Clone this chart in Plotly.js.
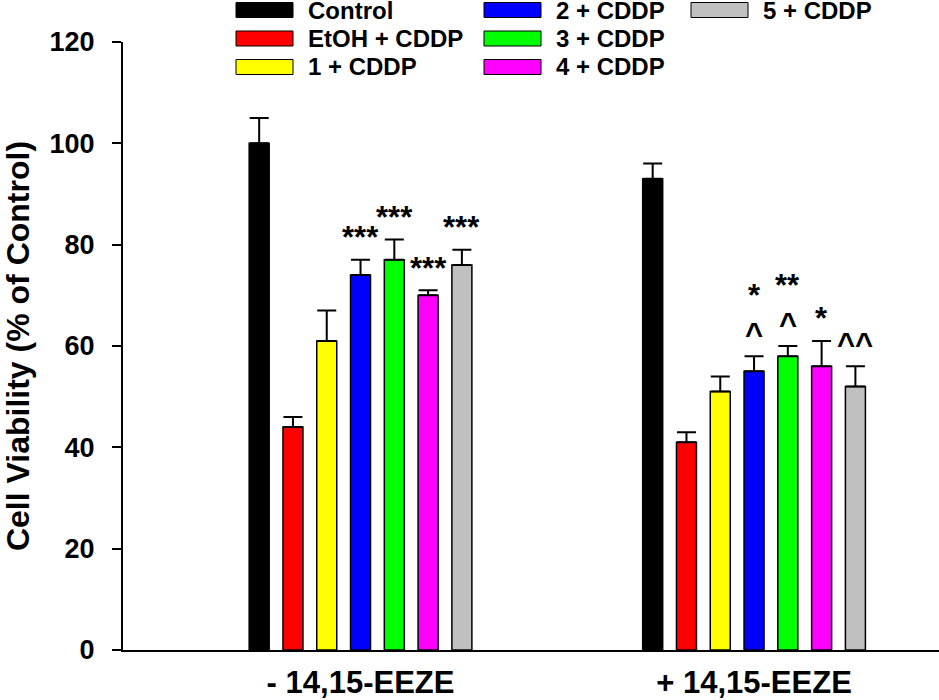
<!DOCTYPE html>
<html><head><meta charset="utf-8">
<script src="https://cdn.plot.ly/plotly-3.0.1.min.js"></script>
<style>html,body{margin:0;padding:0;background:#fff}#chart{width:939px;height:700px}</style>
</head><body><div id="chart"></div>
<script>
// ---- data ----
const groups = ["- 14,15-EEZE", "+ 14,15-EEZE"];
const seriesNames = ["Control", "EtOH + CDDP", "1 + CDDP", "2 + CDDP", "3 + CDDP", "4 + CDDP", "5 + CDDP"];
const seriesColors = ["#000000", "#FF0000", "#FFFF00", "#0000FF", "#00FF00", "#FF00FF", "#C0C0C0"];
const valuesMinus = [100, 44, 61, 74, 77, 70, 76];
const errorsMinus = [5, 2, 6, 3, 4, 1, 3];
const valuesPlus = [93, 41, 51, 55, 58, 56, 52];
const errorsPlus = [3, 2, 3, 3, 2, 5, 4];
const sigMinusLow = ["", "", "", "***", "***", "***", "***"];
const sigMinusHigh = ["", "", "", "", "", "", ""];
const sigPlusLow = ["", "", "", "^", "^", "*", "^^"];
const sigPlusHigh = ["", "", "", "*", "**", "", ""];
const yTicks = [0, 20, 40, 60, 80, 100, 120];

// ---- layout constants ----
const FONT = "Liberation Sans, Arial, sans-serif";
const BARGAP = 0.399, BARGROUPGAP = 0.408;
const W = 939, H = 700, ML = 123, MR = 0, MT = 42, MB = 50;
const PW = W - ML - MR, PH = H - MT - MB;
const px2x = p => (p - ML) / PW;
const px2y = p => (H - MB - p) / PH;

const traces = seriesNames.map((name, i) => ({
  type: "bar",
  name: name,
  x: groups,
  y: [valuesMinus[i], valuesPlus[i]],
  marker: { color: seriesColors[i], line: { color: "#000", width: 1.5 } },
  error_y: {
    type: "data", symmetric: false,
    array: [errorsMinus[i], errorsPlus[i]],
    arrayminus: [0, 0],
    color: "#000", thickness: 2, width: 9.5
  },
  showlegend: false,
  hoverinfo: "skip"
}));

const annotations = [];
const slot = (1 - BARGAP) / seriesNames.length;
const addSig = (gi, vals, errs, low, high) => {
  for (let i = 0; i < seriesNames.length; i++) {
    const xpos = gi + (i - (seriesNames.length - 1) / 2) * slot;
    const top = vals[i] + errs[i];
    if (low[i]) annotations.push({ x: xpos, y: top, xref: "x", yref: "y", text: low[i], showarrow: false,
      yanchor: "middle", yshift: 22, font: { family: FONT, size: 31, color: "#000", weight: "bold" } });
    if (high[i]) annotations.push({ x: xpos, y: top, xref: "x", yref: "y", text: high[i], showarrow: false,
      yanchor: "middle", yshift: 61, font: { family: FONT, size: 31, color: "#000", weight: "bold" } });
  }
};
addSig(0, valuesMinus, errorsMinus, sigMinusLow, sigMinusHigh);
addSig(1, valuesPlus, errorsPlus, sigPlusLow, sigPlusHigh);

// ---- custom legend ----
const shapes = [];
const legColX = [236, 484, 691];
const legRowY = [10, 38.5, 67];
const swW = 57, swH = 15, txtGap = 13;
seriesNames.forEach((name, i) => {
  const c = Math.floor(i / 3), r = i % 3;
  const x0 = legColX[c], yc = legRowY[r];
  shapes.push({ type: "rect", xref: "paper", yref: "paper",
    x0: px2x(x0), x1: px2x(x0 + swW), y0: px2y(yc + swH / 2), y1: px2y(yc - swH / 2),
    fillcolor: seriesColors[i], line: { color: "#000", width: 1 } });
  annotations.push({ xref: "paper", yref: "paper", x: px2x(x0 + swW + txtGap), y: px2y(yc),
    xanchor: "left", yanchor: "middle", showarrow: false, text: name,
    font: { family: FONT, size: 24, color: "#000", weight: "bold" } });
});

const layout = {
  width: W, height: H,
  margin: { l: ML, r: MR, t: MT, b: MB, pad: 0 },
  paper_bgcolor: "#fff", plot_bgcolor: "#fff",
  barmode: "group", bargap: BARGAP, bargroupgap: BARGROUPGAP,
  showlegend: false,
  font: { family: FONT, color: "#000", weight: "bold" },
  xaxis: {
    type: "category", range: [-0.6036, 1.47],
    showline: true, linecolor: "#000", linewidth: 2,
    ticks: "", showgrid: false, zeroline: false,
    tickfont: { family: FONT, size: 31, color: "#000", weight: "bold" },
    ticklabelstandoff: 4
  },
  yaxis: {
    range: [0, 120], tickvals: yTicks, ticktext: yTicks.map(String),
    showline: true, linecolor: "#000", linewidth: 2,
    ticks: "outside", ticklen: 9, tickwidth: 2, tickcolor: "#000",
    showgrid: false, zeroline: false,
    tickfont: { family: FONT, size: 27, color: "#000", weight: "bold" },
    ticklabelstandoff: 12,
    title: { text: "Cell Viability (% of Control)", standoff: 16,
      font: { family: FONT, size: 32, color: "#000", weight: "bold" } }
  },
  shapes: shapes,
  annotations: annotations
};

Plotly.newPlot("chart", traces, layout, { displayModeBar: false, staticPlot: true });
</script>
</body></html>
